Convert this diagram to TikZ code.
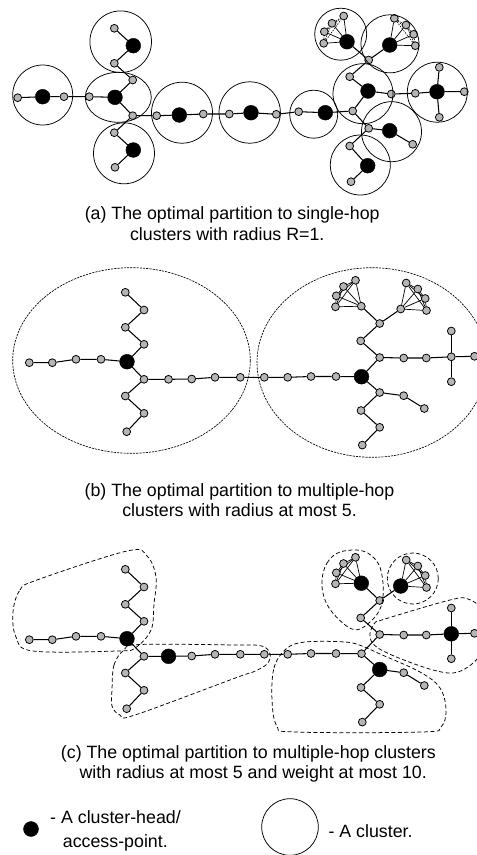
\documentclass[tikz,border=0pt]{standalone}
\usepackage{fontspec}
\setmainfont{Liberation Sans}
\usetikzlibrary{backgrounds}
\tikzset{
 gnode/.style={circle, draw=black, fill=gray!58, line width=0.8pt, minimum size=7.8pt, inner sep=0pt},
 hnode/.style={circle, draw=black, fill=black, minimum size=14.8pt, inner sep=0pt},
 edge/.style={line width=1.05pt},
 kedge/.style={line width=0.7pt},
 dkedge/.style={line width=0.6pt, dash pattern=on 1.5pt off 1.2pt},
 clu/.style={line width=0.75pt},
 bclu/.style={line width=0.65pt, dash pattern=on 2.2pt off 1pt},
 cclu/.style={line width=0.75pt, dash pattern=on 4pt off 2.5pt},
 captxt/.style={font=\fontsize{17.8}{21.3}\selectfont, inner sep=0pt, anchor=base},
 legtxt/.style={font=\fontsize{17.8}{21.3}\selectfont, inner sep=0pt, anchor=base west},
}
\newcommand\bcgraph{%
\node[gnode] (L1) at (29.3,362.7) {};
\node[gnode] (L2) at (52.3,362.7) {};
\node[gnode] (L3) at (76,359.3) {};
\node[gnode] (L4) at (101,359.3) {};
\node[hnode] (H1) at (127,361.7) {};
\node[gnode] (U1) at (144,344.3) {};
\node[gnode] (U2) at (125.3,327.3) {};
\node[gnode] (U3) at (144,310) {};
\node[gnode] (U4) at (125.3,292.3) {};
\node[gnode] (R1) at (144,379.3) {};
\node[vC1] (C1) at (168.5,379.3) {};
\node[gnode] (C2) at (191.7,379) {};
\node[gnode] (C3) at (215,377.3) {};
\node[gnode] (C4) at (240.3,377.3) {};
\node[gnode] (C5) at (264.3,377.3) {};
\node[gnode] (C6) at (287.7,377.3) {};
\node[gnode] (C7) at (311,376.5) {};
\node[gnode] (C8) at (336,376.5) {};
\node[vH2] (H2) at (361.5,376.7) {};
\node[gnode] (D1) at (125.3,396) {};
\node[gnode] (D2) at (144,413.3) {};
\node[gnode] (D3) at (126.7,431.7) {};
\node[gnode] (A1) at (379.7,357.5) {};
\node[gnode] (A2) at (403.7,358) {};
\node[gnode] (A3) at (426.3,358) {};
\node[vS] (S) at (451.3,356.8) {};
\node[gnode] (Su) at (451.3,331) {};
\node[gnode] (Sd) at (451.3,381.7) {};
\node[gnode] (Sr) at (474.5,356.3) {};
\node[gnode] (B1) at (360.7,340.9) {};
\node[gnode] (B2) at (379.7,323.5) {};
\node[vK1] (K1h) at (361.3,306.2) {};
\node[gnode] (K1a) at (335.5,306.8) {};
\node[gnode] (K1b) at (336.3,295.8) {};
\node[gnode] (K1c) at (343.5,286.5) {};
\node[gnode] (K1d) at (355.5,280.3) {};
\node[vK2] (K2h) at (400.7,309) {};
\node[gnode] (K2a) at (406.2,283) {};
\node[gnode] (K2b) at (417.8,289) {};
\node[gnode] (K2c) at (425.2,298.5) {};
\node[gnode] (K2d) at (426.5,310.5) {};
\node[vE1] (E1) at (379.7,392.5) {};
\node[gnode] (E2) at (403.7,395.7) {};
\node[gnode] (E3) at (424.3,408.5) {};
\node[gnode] (F1) at (361,410.5) {};
\node[gnode] (F2) at (379.7,427.3) {};
\node[gnode] (F3) at (362.3,445.1) {};
\begin{scope}[on background layer]
\draw[edge] (L1) -- (L2) -- (L3) -- (L4) -- (H1) -- (U1) -- (U2) -- (U3) -- (U4);
\draw[edge] (H1) -- (R1) -- (C1) -- (C2) -- (C3) -- (C4) -- (C5) -- (C6) -- (C7) -- (C8) -- (H2);
\draw[edge] (R1) -- (D1) -- (D2) -- (D3);
\draw[edge] (H2) -- (A1) -- (A2) -- (A3) -- (S) -- (Sr);
\draw[edge] (Su) -- (S) -- (Sd);
\draw[edge] (A1) -- (B1) -- (B2) -- (K1h);
\draw[edge] (B2) -- (K2h);
\draw[edge] (H2) -- (E1) -- (E2) -- (E3);
\draw[edge] (E1) -- (F1) -- (F2) -- (F3);
\foreach \u/\v in {h/a,h/b,h/c,h/d,a/b,a/c,a/d,b/c,b/d,c/d}{\draw[kedge] (K1\u) -- (K1\v); \draw[kedge] (K2\u) -- (K2\v);}
\end{scope}}
\begin{document}
\begin{tikzpicture}[x=1pt,y=-1pt]
\path[use as bounding box] (0,0) rectangle (477,855);
\clip (0,0) rectangle (477,855);
% ---------------- panel (a)
\begin{scope}[name prefix=a-]
\node[gnode] (L1) at (17.7,97.7) {};
\node[hnode] (L2) at (42.7,96.7) {};
\node[gnode] (L3) at (64,96.7) {};
\node[gnode] (L4) at (89.3,96.7) {};
\node[hnode] (H1) at (115,97.3) {};
\node[gnode] (U1) at (132.7,80) {};
\node[gnode] (U2) at (114.3,63.3) {};
\node[hnode] (U3) at (133.3,45.7) {};
\node[gnode] (U4) at (114.3,28.3) {};
\node[gnode] (R1) at (132.7,115.7) {};
\node[gnode] (D1) at (114.3,132.7) {};
\node[hnode] (D2) at (133.3,150) {};
\node[gnode] (D3) at (115,167.3) {};
\node[gnode] (C1) at (156.7,115.7) {};
\node[hnode] (C2) at (179.3,115) {};
\node[gnode] (C3) at (203.3,114) {};
\node[gnode] (C4) at (229.3,114) {};
\node[hnode] (C5) at (251,112.7) {};
\node[gnode] (C6) at (276.3,114.3) {};
\node[gnode] (C7) at (298.7,111.7) {};
\node[hnode] (C8) at (325.3,112.7) {};
\node[gnode] (H2) at (352.7,111) {};
\node[hnode] (A1) at (368,91) {};
\node[gnode] (A2) at (391.3,94) {};
\node[gnode] (A3) at (415.3,93.3) {};
\node[hnode] (S) at (437,91.7) {};
\node[gnode] (Su) at (439.3,67.3) {};
\node[gnode] (Sd) at (439.3,117.3) {};
\node[gnode] (Sr) at (464.3,91.7) {};
\node[gnode] (B1) at (349.7,76.7) {};
\node[gnode] (B2) at (368.7,60) {};
\node[hnode] (K1h) at (347,41.7) {};
\node[gnode] (K1a) at (323.7,43.3) {};
\node[gnode] (K1b) at (324.3,31.7) {};
\node[gnode] (K1c) at (332,23.3) {};
\node[gnode] (K1d) at (343.7,16) {};
\node[hnode] (K2h) at (389.7,45) {};
\node[gnode] (K2a) at (394.3,18.3) {};
\node[gnode] (K2b) at (406,25) {};
\node[gnode] (K2c) at (413.7,34.3) {};
\node[gnode] (K2d) at (415.3,45.7) {};
\node[gnode] (E1) at (368.7,128.3) {};
\node[hnode] (E2) at (389.7,130.7) {};
\node[gnode] (E3) at (412.7,144.3) {};
\node[gnode] (F1) at (349.7,146) {};
\node[hnode] (F2) at (367.7,165.7) {};
\node[gnode] (F3) at (351,181.7) {};
\begin{scope}[on background layer]
\draw[edge] (L1) -- (L2) -- (L3) -- (L4) -- (H1) -- (U1) -- (U2) -- (U3) -- (U4);
\draw[edge] (H1) -- (R1) -- (C1) -- (C2) -- (C3) -- (C4) -- (C5) -- (C6) -- (C7) -- (C8) -- (H2);
\draw[edge] (R1) -- (D1) -- (D2) -- (D3);
\draw[edge] (H2) -- (A1) -- (A2) -- (A3) -- (S) -- (Sr);
\draw[edge] (Su) -- (S) -- (Sd);
\draw[edge] (A1) -- (B1) -- (B2) -- (K1h);
\draw[edge] (B2) -- (K2h);
\draw[edge] (H2) -- (E1) -- (E2) -- (E3);
\draw[edge] (E1) -- (F1) -- (F2) -- (F3);
\foreach \v in {a,b,c,d}{\draw[kedge] (K1h) -- (K1\v); \draw[kedge] (K2h) -- (K2\v);}
\foreach \u/\v in {a/b,a/c,a/d,b/c,b/d,c/d}{\draw[dkedge] (K1\u) -- (K1\v); \draw[dkedge] (K2\u) -- (K2\v);}
\end{scope}
\end{scope}
\draw[clu] (42.7,95) circle[radius=30];
\draw[clu] (118.3,97.3) ellipse[x radius=33, y radius=25];
\draw[clu] (120.7,41.7) circle[radius=30.8];
\draw[clu] (124,153.3) circle[radius=30.5];
\draw[clu] (182,112.7) circle[radius=30.5];
\draw[clu] (249.7,112.5) circle[radius=30.7];
\draw[clu] (313.7,114.2) circle[radius=24];
\draw[clu] (363,93.7) circle[radius=30];
\draw[clu] (340.7,34.2) circle[radius=26];
\draw[clu] (390,43.8) circle[radius=29];
\draw[clu] (437.3,92.2) circle[radius=30];
\draw[clu] (391.5,131.7) circle[radius=30];
\draw[clu] (360.3,165) circle[radius=30];
\node[captxt] (capa1) at (232.2,219.3) {(a) The optimal partition to single-hop};
\node[captxt] (capa2) at (227.2,240.7) {clusters with radius R=1.};
% ---------------- panel (b)
\begin{scope}[name prefix=b-, vC1/.style=gnode, vH2/.style=hnode, vS/.style=gnode,
  vK1/.style=gnode, vK2/.style=gnode, vE1/.style=gnode]
\bcgraph
\end{scope}
\draw[bclu] (131.5,360.5) ellipse[x radius=118.8, y radius=92.8];
\draw[bclu] (372,362.5) ellipse[x radius=115, y radius=94.8];
\node[captxt] (capb1) at (239.5,496) {(b) The optimal partition to multiple-hop};
\node[captxt] (capb2) at (239.5,516) {clusters with radius at most 5.};
% ---------------- panel (c)
\begin{scope}[yshift=-277pt, name prefix=c-, vC1/.style=hnode, vH2/.style=gnode, vS/.style=hnode,
  vK1/.style=hnode, vK2/.style=hnode, vE1/.style=hnode]
\bcgraph
\end{scope}
\draw[cclu] plot[smooth cycle, tension=0.6] coordinates {(13,612) (20,590) (37,580) (127,551) (147,556) (156,577) (154,604) (151,630) (135,648) (117,651) (33,651) (16,637)};
\draw[cclu] plot[smooth cycle, tension=0.6] coordinates {(112,690) (114,665) (124,650) (140,644.5) (237,645) (262,646) (270,654) (267,664) (253,672) (238,677) (135,715) (120,715) (112,706)};
\draw[cclu] plot[smooth cycle, tension=0.6] coordinates {(272,700) (274,668) (286,649) (305,642) (345,642) (362,646) (380,654) (420,672) (440,688) (446,710) (441,727) (422,732) (295,732) (277,726)};
\draw[cclu] plot[smooth cycle, tension=0.6] coordinates {(322,580) (327,563) (340,552) (363,551) (378,563) (383,583) (382,603) (375,617) (360,629) (348,627) (332,612) (324,597)};
\draw[cclu] (412.8,578.5) circle[radius=25.5];
\draw[cclu] plot[smooth cycle, tension=0.6] coordinates {(370,637) (374,624) (385,619) (450,600) (468,599) (482,610) (488,635) (478,658) (458,672) (437,671) (404,660) (378,648)};
\node[captxt] (capc1) at (248.4,758) {(c) The optimal partition to multiple-hop clusters};
\node[captxt] (capc2) at (253.2,778) {with radius at most 5 and weight at most 10.};
% ---------------- legend
\node[hnode, minimum size=15pt] (legh) at (31,829) {};
\node[legtxt] (legt1) at (50,823) {- A cluster-head/};
\node[legtxt] (legt2) at (62.7,847) {access-point.};
\draw[clu] (290,827) circle[radius=28.3];
\node[legtxt] (legt3) at (328.3,837) {- A cluster.};
\end{tikzpicture}
\end{document}
